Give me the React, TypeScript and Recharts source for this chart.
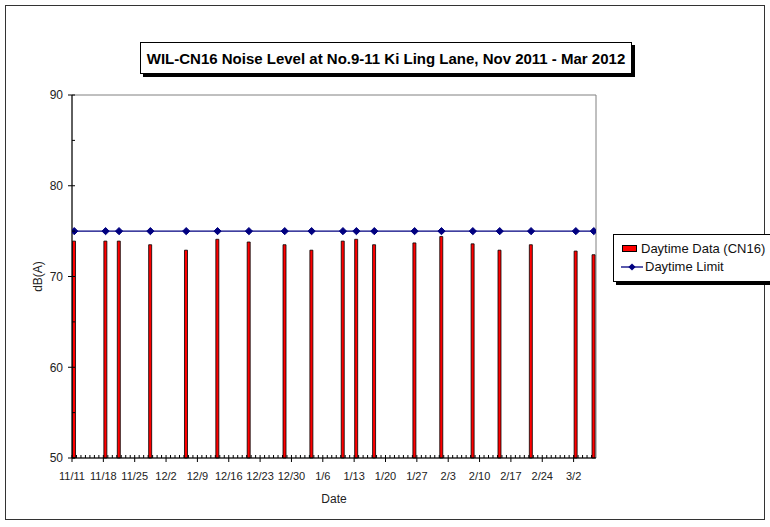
import React from 'react';
import { ComposedChart, Bar, Line, XAxis, YAxis, ReferenceArea, Label } from 'recharts';

const measurementDates = [
  '2011-11-11', '2011-11-18', '2011-11-21', '2011-11-28', '2011-12-06', '2011-12-13',
  '2011-12-20', '2011-12-28', '2012-01-03', '2012-01-10', '2012-01-13', '2012-01-17',
  '2012-01-26', '2012-02-01', '2012-02-08', '2012-02-14', '2012-02-21', '2012-03-02', '2012-03-06',
];
const daytimeNoise = [
  73.9, 73.9, 73.9, 73.5, 72.9, 74.1,
  73.8, 73.5, 72.9, 73.9, 74.1, 73.5,
  73.7, 74.4, 73.6, 72.9, 73.5, 72.8, 72.4,
];
const daytimeLimit = [
  75, 75, 75, 75, 75, 75,
  75, 75, 75, 75, 75, 75,
  75, 75, 75, 75, 75, 75, 75,
];
const xTickLabels = [
  '11/11', '11/18', '11/25', '12/2', '12/9', '12/16', '12/23', '12/30',
  '1/6', '1/13', '1/20', '1/27', '2/3', '2/10', '2/17', '2/24', '3/2',
];
const yTickLabels = [50, 60, 70, 80, 90];
const yMinorStep = 5;

const START = Date.UTC(2011, 10, 11);
const DAY = 86400000;
const isoToDay = (iso: string) => {
  const [y, m, d] = iso.split('-').map(Number);
  return Math.round((Date.UTC(y, m - 1, d) - START) / DAY);
};
const labelToDay = (lbl: string) => {
  const [m, d] = lbl.split('/').map(Number);
  const y = m >= 11 ? 2011 : 2012;
  return Math.round((Date.UTC(y, m - 1, d) - START) / DAY);
};

const data = measurementDates.map((d, i) => ({
  day: isoToDay(d),
  noise: daytimeNoise[i],
  limit: daytimeLimit[i],
}));

// date axis: each day occupies a slot; ticks sit on the slot boundaries (start of day)
const LAST_DAY = isoToDay(measurementDates[measurementDates.length - 1]);
const X_MIN = -0.5;
const X_MAX = LAST_DAY + 0.5;
const tickLabelByPos: Record<string, string> = {};
xTickLabels.forEach((l) => { tickLabelByPos[String(labelToDay(l) - 0.5)] = l; });
const allXTicks: number[] = [];
for (let d = 0; d <= LAST_DAY; d++) allXTicks.push(d - 0.5);
const allYTicks: number[] = [];
for (let v = yTickLabels[0]; v <= yTickLabels[yTickLabels.length - 1]; v += yMinorStep) allYTicks.push(v);

const FONT = '"Liberation Sans", Arial, sans-serif';
const NAVY = '#000080';
const TICK_SIZE = 4;
const TICK_MARGIN = 4;

const XTick = (props: any) => {
  const { x, y, payload } = props;
  const v = payload?.value;
  const axisY = y - TICK_SIZE - TICK_MARGIN;
  const label = tickLabelByPos[String(v)];
  if (label !== undefined) {
    return (
      <g>
        <line x1={x} x2={x} y1={axisY - 3} y2={axisY + 4} stroke="#000" strokeWidth={1} />
        <text x={x} y={axisY + 13} dy="0.85em" textAnchor="middle" fontSize={11} fill="#222" fontFamily={FONT}>
          {label}
        </text>
      </g>
    );
  }
  return <line x1={x} x2={x} y1={axisY} y2={axisY - 3} stroke="#000" strokeWidth={1} />;
};

const YTick = (props: any) => {
  const { x, y, payload } = props;
  const v = payload?.value;
  const axisX = x + TICK_SIZE + TICK_MARGIN;
  if (yTickLabels.includes(v)) {
    return (
      <g>
        <line x1={axisX - 4} x2={axisX + 3} y1={y} y2={y} stroke="#000" strokeWidth={1} />
        <text x={axisX - 9} y={y} dy="0.36em" textAnchor="end" fontSize={12} fill="#222" fontFamily={FONT}>
          {v}
        </text>
      </g>
    );
  }
  return <line x1={axisX} x2={axisX + 3} y1={y} y2={y} stroke="#000" strokeWidth={1} />;
};

const Diamond = (props: any) => {
  const { cx, cy } = props;
  if (cx == null || cy == null) return null;
  const r = 3.6;
  return (
    <path
      d={`M${cx},${cy - r}L${cx + r},${cy}L${cx},${cy + r}L${cx - r},${cy}Z`}
      fill={NAVY}
      stroke={NAVY}
    />
  );
};

export default function App() {
  return (
    <div style={{ position: 'absolute', left: 0, top: 0, width: 770, height: 527, fontFamily: FONT, background: '#fff' }}>
      <div style={{ position: 'absolute', left: 5, top: 5, width: 760, height: 515, border: '1.5px solid #333', boxSizing: 'border-box' }} />
      <div style={{ position: 'absolute', left: 0, top: 0 }}>
        <ComposedChart
          width={770}
          height={527}
          data={data}
          margin={{ top: 95, right: 174, left: 0, bottom: 0 }}
          style={{ fontFamily: FONT }}
        >
          <ReferenceArea x1={X_MIN} x2={X_MAX} y1={50} y2={90} fill="none" stroke="#808080" strokeWidth={1} />
          <XAxis
            dataKey="day"
            type="number"
            domain={[X_MIN, X_MAX]}
            ticks={allXTicks}
            allowDataOverflow
            height={69}
            tickSize={TICK_SIZE}
            tickMargin={TICK_MARGIN}
            interval={0}
            axisLine={{ stroke: '#000', strokeWidth: 1 }}
            tickLine={false}
            tick={<XTick />}
          >
            <Label value="Date" position="insideBottom" offset={24} style={{ fontSize: 12, fill: '#222', fontFamily: FONT }} />
          </XAxis>
          <YAxis
            type="number"
            domain={[50, 90]}
            ticks={allYTicks}
            width={72}
            tickSize={TICK_SIZE}
            tickMargin={TICK_MARGIN}
            interval={0}
            axisLine={{ stroke: '#000', strokeWidth: 1 }}
            tickLine={false}
            tick={<YTick />}
          >
            <Label value="dB(A)" angle={-90} position="center" dx={2} style={{ fontSize: 12, fill: '#222', fontFamily: FONT }} />
          </YAxis>
          <Bar
            dataKey="noise"
            barSize={3}
            fill="#ff0000"
            stroke="#000"
            strokeWidth={0.8}
            isAnimationActive={false}
          />
          <Line
            dataKey="limit"
            stroke={NAVY}
            strokeWidth={1.3}
            dot={<Diamond />}
            activeDot={false}
            isAnimationActive={false}
          />
        </ComposedChart>
      </div>
      <div
        style={{
          position: 'absolute', left: 140, top: 42, width: 492, height: 32,
          border: '1px solid #000', boxShadow: '3px 3px 0 #000', background: '#fff',
          boxSizing: 'border-box', display: 'flex', alignItems: 'center', justifyContent: 'center',
          fontWeight: 'bold', fontSize: 15, color: '#000', whiteSpace: 'nowrap',
        }}
      >
        WIL-CN16 Noise Level at No.9-11 Ki Ling Lane, Nov 2011 - Mar 2012
      </div>
      <div
        style={{
          position: 'absolute', left: 613, top: 234, width: 170, height: 48,
          border: '1px solid #000', boxShadow: '3px 3px 0 #000', background: '#fff',
          boxSizing: 'border-box', fontSize: 13, color: '#111',
        }}
      >
        <div style={{ position: 'absolute', left: 7, top: 6, display: 'flex', alignItems: 'center', whiteSpace: 'nowrap' }}>
          <span style={{ display: 'inline-block', width: 15, height: 7, background: '#ff0000', border: '1px solid #000', boxSizing: 'border-box', marginRight: 4, marginLeft: 1 }} />
          Daytime Data (CN16)
        </div>
        <div style={{ position: 'absolute', left: 7, top: 24, display: 'flex', alignItems: 'center', whiteSpace: 'nowrap' }}>
          <svg width={22} height={10} style={{ marginRight: 2 }}>
            <line x1={0} y1={5} x2={22} y2={5} stroke={NAVY} strokeWidth={1.3} />
            <path d="M11,1.4L14.6,5L11,8.6L7.4,5Z" fill={NAVY} />
          </svg>
          Daytime Limit
        </div>
      </div>
    </div>
  );
}
